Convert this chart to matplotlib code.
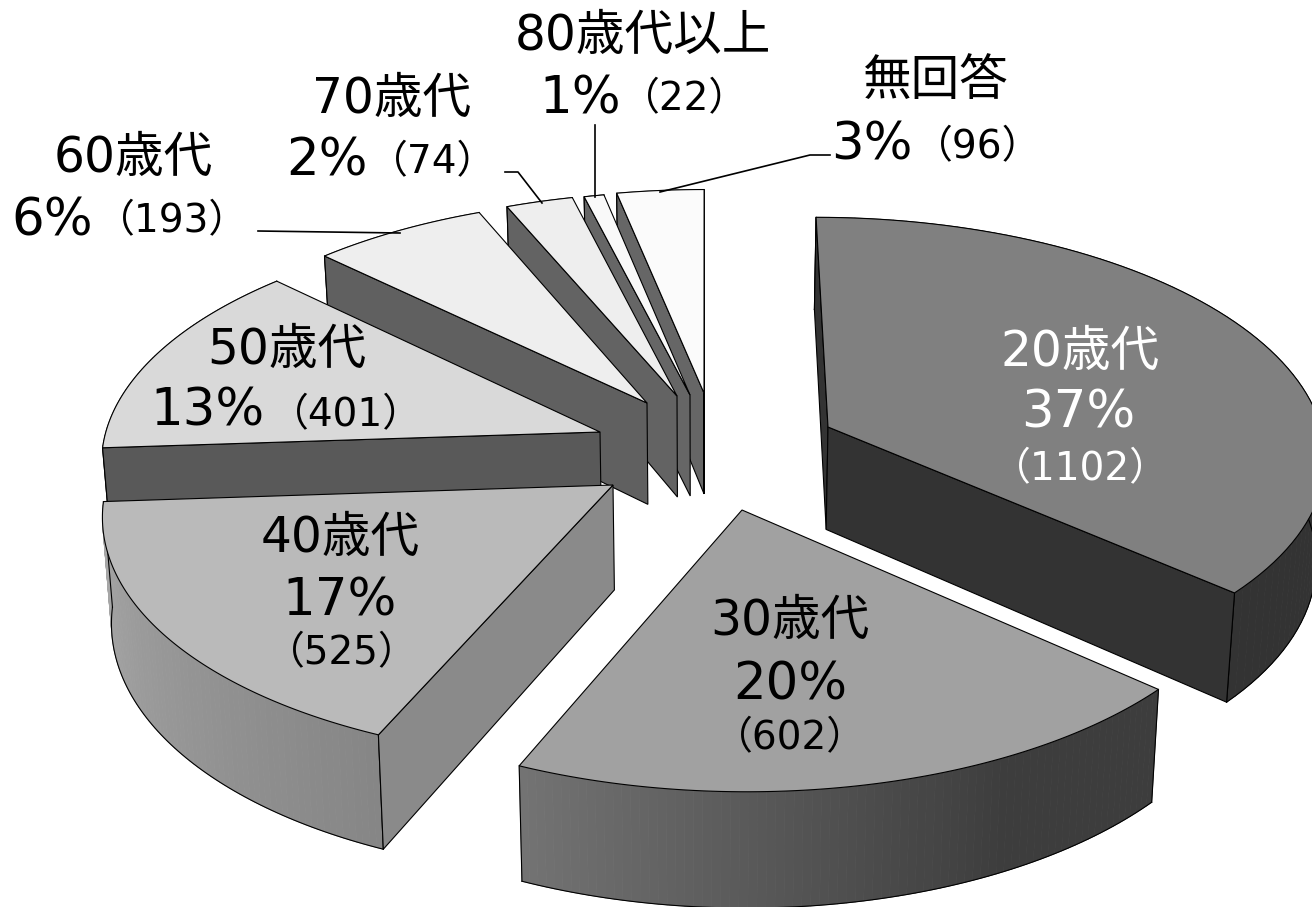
import numpy as np
import matplotlib.pyplot as plt
from matplotlib.collections import PolyCollection
from matplotlib.colors import to_rgb

plt.rcParams['font.family'] = ['DejaVu Sans', 'Noto Sans CJK JP']

# data, clockwise from 12 o'clock
names = ['20歳代', '30歳代', '40歳代', '50歳代', '60歳代', '70歳代', '80歳代以上', '無回答']
percents = ['37%', '20%', '17%', '13%', '6%', '2%', '1%', '3%']
counts = [1102, 602, 525, 401, 193, 74, 22, 96]

# look of each slice
top_colors = ['#808080', '#a1a1a1', '#bababa', '#d9d9d9', '#eeeeee', '#eeeeee', '#f9f9f9', '#fbfbfb']
wall_start = ['#333333', '#3d3d3d', '#868686', '#595959', '#606060', '#636363', '#666666', '#666666']
wall_end = ['#333333', '#737373', '#a8a8a8', '#595959', '#606060', '#636363', '#666666', '#666666']
side_colors = ['#333333', '#3d3d3d', '#8a8a8a', '#595959', '#606060', '#636363', '#666666', '#666666']
# tip of each slice on the picture (pixels), this is the explosion
tips = [(828, 427), (742, 510), (613, 485), (600, 432), (647, 403), (677, 396), (690, 395), (704, 393)]
draw_order = [7, 6, 5, 4, 3, 0, 2, 1]

CX, CY = 705, 440
A, B, K = 496, 235, 0.108
DEPTH = 103
SHRINK = 0.985


def project(u, v):
    w = 1 + K * v
    return CX + A * u / w, CY - B * v / w


def unproject(x, y):
    yy = CY - y
    v = yy / (B - K * yy)
    return (x - CX) * (1 + K * v) / A, v


def lower(x, y, v):
    # same point on the underside of the slice
    return CX + (x - CX) * SHRINK, y + DEPTH * (1 - 0.1 * v)


def faces_viewer(p, q, m):
    # the cut under edge p-q shows when the slice lies above that edge on screen
    ex, ey = q[0] - p[0], q[1] - p[1]
    inner = ex * (m[1] - p[1]) - ey * (m[0] - p[0])
    down = ex
    return inner * down < 0


fig = plt.figure(figsize=(13.12, 9.07), dpi=100)
ax = fig.add_axes([0, 0, 1, 1])
ax.set_xlim(0, 1312)
ax.set_ylim(907, 0)
ax.axis('off')

angles = np.cumsum([0] + counts) / sum(counts) * 2 * np.pi

z = 1
for i in draw_order:
    u0, v0 = unproject(*tips[i])
    th = np.linspace(angles[i], angles[i + 1], 80)
    u = np.r_[u0, u0 + np.sin(th)]
    v = np.r_[v0, v0 + np.cos(th)]
    x, y = project(u, v)
    lx, ly = lower(x, y, v)
    n = len(x)

    # curved wall as thin strips so it can carry the gradient
    strips, shades = [], []
    c0 = np.array(to_rgb(wall_start[i]))
    c1 = np.array(to_rgb(wall_end[i]))
    for j in range(1, n - 1):
        strips.append([(x[j], y[j]), (x[j + 1], y[j + 1]), (lx[j + 1], ly[j + 1]), (lx[j], ly[j])])
        t = (j - 1) / (n - 3)
        if i == 1:
            t = np.clip((t - 0.3) / 0.7, 0, 1)
        shades.append(c0 + (c1 - c0) * t)
    ax.add_collection(PolyCollection(strips, facecolors=shades, edgecolors=shades, lw=0.6, zorder=z))
    z += 1
    ax.plot(lx[1:], ly[1:], color='black', lw=0.8, zorder=z)
    ax.plot([lx[1], x[1]], [ly[1], y[1]], color='black', lw=0.8, zorder=z)
    ax.plot([lx[-1], x[-1]], [ly[-1], y[-1]], color='black', lw=0.8, zorder=z)
    z += 1

    # the cut faces that can be seen
    mid = (x[n // 2], y[n // 2])
    for j in (1, n - 1):
        if faces_viewer((x[0], y[0]), (x[j], y[j]), mid):
            ax.fill([x[0], x[j], lx[j], lx[0]], [y[0], y[j], ly[j], ly[0]],
                    facecolor=side_colors[i], edgecolor='black', lw=0.8, zorder=z)
    z += 1

    ax.fill(x, y, facecolor=top_colors[i], edgecolor='black', lw=0.8, zorder=z)
    z += 1

# leader lines
for lxs, lys in [([258, 400], [231, 233]),
                 ([505, 518, 542], [172, 172, 203]),
                 ([595, 595], [125, 197]),
                 ([830, 810, 660], [155, 155, 192])]:
    ax.plot(lxs, lys, color='black', lw=1.2, zorder=z)
z += 1


def label(x, y, s, size, color='black'):
    ax.text(x, y, s, fontsize=size, color=color, ha='center', va='center', zorder=z)


NAME, PCT, CNT = 35, 37, 28
paren = ['（%d）' % c for c in counts]

# stacked labels sitting on the slices
label(1080, 352, names[0], NAME, 'white')
label(1078, 414, percents[0], PCT, 'white')
label(1080, 469, paren[0], CNT, 'white')
label(790, 621, names[1], NAME)
label(790, 686, percents[1], PCT)
label(790, 738, paren[1], CNT)
label(340, 538, names[2], NAME)
label(340, 602, percents[2], PCT)
label(342, 653, paren[2], CNT)

# two line labels, percent and count side by side
label(287, 350, names[3], NAME)
label(208, 412, percents[3], PCT)
label(346, 415, paren[3], CNT)
label(133, 158, names[4], NAME)
label(52, 221, percents[4], PCT)
label(172, 221, paren[4], CNT)
label(392, 99, names[5], NAME)
label(327, 161, percents[5], PCT)
label(433, 162, paren[5], CNT)
label(643, 36, names[6], NAME)
label(580, 99, percents[6], PCT)
label(685, 99, paren[6], CNT)
label(936, 81, names[7], NAME)
label(872, 146, percents[7], PCT)
label(978, 147, paren[7], CNT)

fig.savefig('out.png', dpi=100)
